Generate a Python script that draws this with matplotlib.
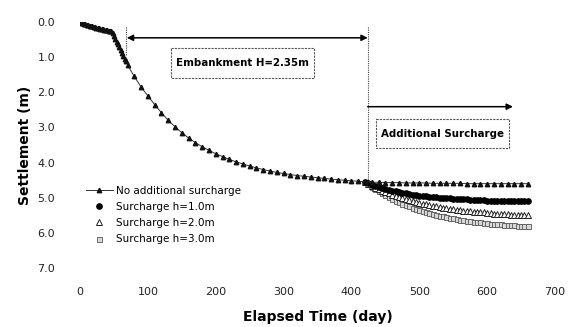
import numpy as np
import matplotlib
matplotlib.use("Agg")
import matplotlib.pyplot as plt
from matplotlib.patches import Rectangle

plt.rcParams['font.family'] = ['DejaVu Sans']

# Embankment stage: fast early readings then every 10 days
days_main = [0, 2, 4, 6, 8, 10, 12, 14, 16, 18, 20, 22, 24, 26, 28, 30, 32, 34, 36, 38,
             40, 42, 44, 46, 48, 50, 52, 54, 56, 58, 60, 62, 64, 66, 68, 70,
             80, 90, 100, 110, 120, 130, 140, 150, 160, 170, 180, 190, 200, 210, 220,
             230, 240, 250, 260, 270, 280, 290, 300, 310, 320, 330, 340, 350, 360,
             370, 380, 390, 400, 410, 420,
             430, 440, 450, 460, 470, 480, 490, 500, 510, 520, 530, 540, 550, 560,
             570, 580, 590, 600, 610, 620, 630, 640, 650, 660]
settle_main = [0.00, 0.02, 0.04, 0.05, 0.06, 0.08, 0.09, 0.10, 0.11, 0.12, 0.14, 0.15,
               0.16, 0.17, 0.18, 0.19, 0.20, 0.21, 0.22, 0.23, 0.24, 0.25, 0.26, 0.27,
               0.32, 0.40, 0.48, 0.56, 0.64, 0.72, 0.80, 0.88, 0.96, 1.04, 1.12, 1.22,
               1.55, 1.85, 2.10, 2.35, 2.58, 2.80, 2.98, 3.15, 3.30, 3.43, 3.55, 3.65,
               3.75, 3.83, 3.91, 3.98, 4.04, 4.10, 4.15, 4.20, 4.24, 4.28, 4.31, 4.34,
               4.37, 4.39, 4.41, 4.43, 4.45, 4.47, 4.49, 4.50, 4.52, 4.53, 4.55,
               4.56, 4.56, 4.57, 4.57, 4.57, 4.58, 4.58, 4.58, 4.58, 4.59, 4.59, 4.59,
               4.59, 4.59, 4.60, 4.60, 4.60, 4.60, 4.60, 4.60, 4.60, 4.60, 4.60, 4.60]

# Surcharge stage, readings every 5 days from day 420
days_sur = list(range(420, 661, 5))
settle_h1 = [4.55, 4.59, 4.63, 4.66, 4.69, 4.72, 4.75, 4.77, 4.80, 4.82, 4.84, 4.86,
             4.88, 4.89, 4.91, 4.92, 4.94, 4.95, 4.96, 4.97, 4.98, 4.99, 5.00, 5.01,
             5.02, 5.02, 5.03, 5.04, 5.04, 5.05, 5.05, 5.06, 5.06, 5.07, 5.07, 5.07,
             5.08, 5.08, 5.08, 5.08, 5.09, 5.09, 5.09, 5.09, 5.10, 5.10, 5.10, 5.10, 5.10]
settle_h2 = [4.55, 4.61, 4.66, 4.71, 4.75, 4.80, 4.84, 4.88, 4.92, 4.95, 4.98, 5.02,
             5.05, 5.07, 5.10, 5.13, 5.15, 5.17, 5.19, 5.22, 5.23, 5.25, 5.27, 5.29,
             5.30, 5.32, 5.33, 5.34, 5.35, 5.37, 5.38, 5.39, 5.40, 5.41, 5.42, 5.42,
             5.43, 5.44, 5.45, 5.45, 5.46, 5.46, 5.47, 5.48, 5.48, 5.49, 5.49, 5.49, 5.50]
settle_h3 = [4.55, 4.62, 4.69, 4.76, 4.82, 4.88, 4.93, 4.99, 5.04, 5.08, 5.13, 5.17,
             5.21, 5.25, 5.29, 5.32, 5.35, 5.38, 5.41, 5.44, 5.46, 5.49, 5.51, 5.53,
             5.55, 5.57, 5.59, 5.61, 5.62, 5.64, 5.65, 5.67, 5.68, 5.69, 5.70, 5.72,
             5.73, 5.74, 5.75, 5.75, 5.76, 5.77, 5.78, 5.78, 5.79, 5.80, 5.80, 5.81, 5.81]

x_ticks = [0, 100, 200, 300, 400, 500, 600, 700]
y_ticks = [0, 1, 2, 3, 4, 5, 6, 7]

fig = plt.figure(figsize=(5.73, 3.27), dpi=100)
ax = fig.add_axes([80 / 573, 59 / 327, 475 / 573, 246 / 327])

ax.plot(days_sur, settle_h3, ls='none', marker='s', ms=3.6, mfc='#d8d8d8',
        mec='#555555', mew=0.6, label='Surcharge h=3.0m', zorder=2)
ax.plot(days_sur, settle_h2, ls='none', marker='^', ms=3.8, mfc='white',
        mec='#222222', mew=0.7, label='Surcharge h=2.0m', zorder=3)
ax.plot(days_sur, settle_h1, ls='none', marker='o', ms=3.8, mfc='black',
        mec='black', label='Surcharge h=1.0m', zorder=4)
ax.plot(days_main, settle_main, color='#333333', lw=0.7, marker='^', ms=3.2,
        mfc='#111111', mec='#111111', label='No additional surcharge', zorder=5)

ax.set_xlim(0, 700)
ax.set_ylim(7, 0)
ax.set_xticks(x_ticks)
ax.set_xticklabels([str(v) for v in x_ticks])
ax.set_yticks(y_ticks)
ax.set_yticklabels([f'{v:.1f}' for v in y_ticks])
ax.tick_params(length=0, labelsize=8, colors='#222222')
ax.tick_params(axis='x', pad=14)
ax.tick_params(axis='y', pad=18)
for sp in ax.spines.values():
    sp.set_visible(False)

ax.set_xlabel('Elapsed Time (day)', fontsize=10, fontweight='bold', labelpad=9)
ax.set_ylabel('Settlement (m)', fontsize=10, fontweight='bold', labelpad=4)

# stage markers
ax.plot([68, 68], [0.15, 0.95], color='#444444', lw=0.8, ls=(0, (1, 1)))
ax.plot([424, 424], [0.15, 4.55], color='#444444', lw=0.8, ls=(0, (1, 1)))
ax.annotate('', xy=(69, 0.45), xytext=(424, 0.45),
            arrowprops=dict(arrowstyle='<|-|>', color='black', lw=1.1,
                            mutation_scale=9, shrinkA=0, shrinkB=0))
ax.annotate('', xy=(638, 2.41), xytext=(424, 2.41),
            arrowprops=dict(arrowstyle='-|>', color='black', lw=1.1,
                            mutation_scale=9, shrinkA=0, shrinkB=0))

# label boxes
for x0, x1, y0, y1 in [(134, 345, 0.74, 1.59), (436, 632, 2.76, 3.59)]:
    ax.add_patch(Rectangle((x0, y0), x1 - x0, y1 - y0, fc='white', ec='#555555',
                           lw=0.8, ls=(0, (2, 1)), zorder=6))
ax.text(240, 1.17, 'Embankment H=2.35m', fontsize=7.4, fontweight='bold',
        ha='center', va='center', zorder=7)
ax.text(534, 3.18, 'Additional Surcharge', fontsize=7.4, fontweight='bold',
        ha='center', va='center', zorder=7)

h, l = ax.get_legend_handles_labels()
order = [3, 2, 1, 0]
ax.legend([h[i] for i in order], [l[i] for i in order], loc='upper left',
          bbox_to_anchor=(0.012, 0.335), frameon=False, fontsize=7.5,
          numpoints=1, handlelength=2.6, handletextpad=0.3, labelspacing=0.6,
          borderpad=0, borderaxespad=0)

fig.savefig('out.png', dpi=100)
